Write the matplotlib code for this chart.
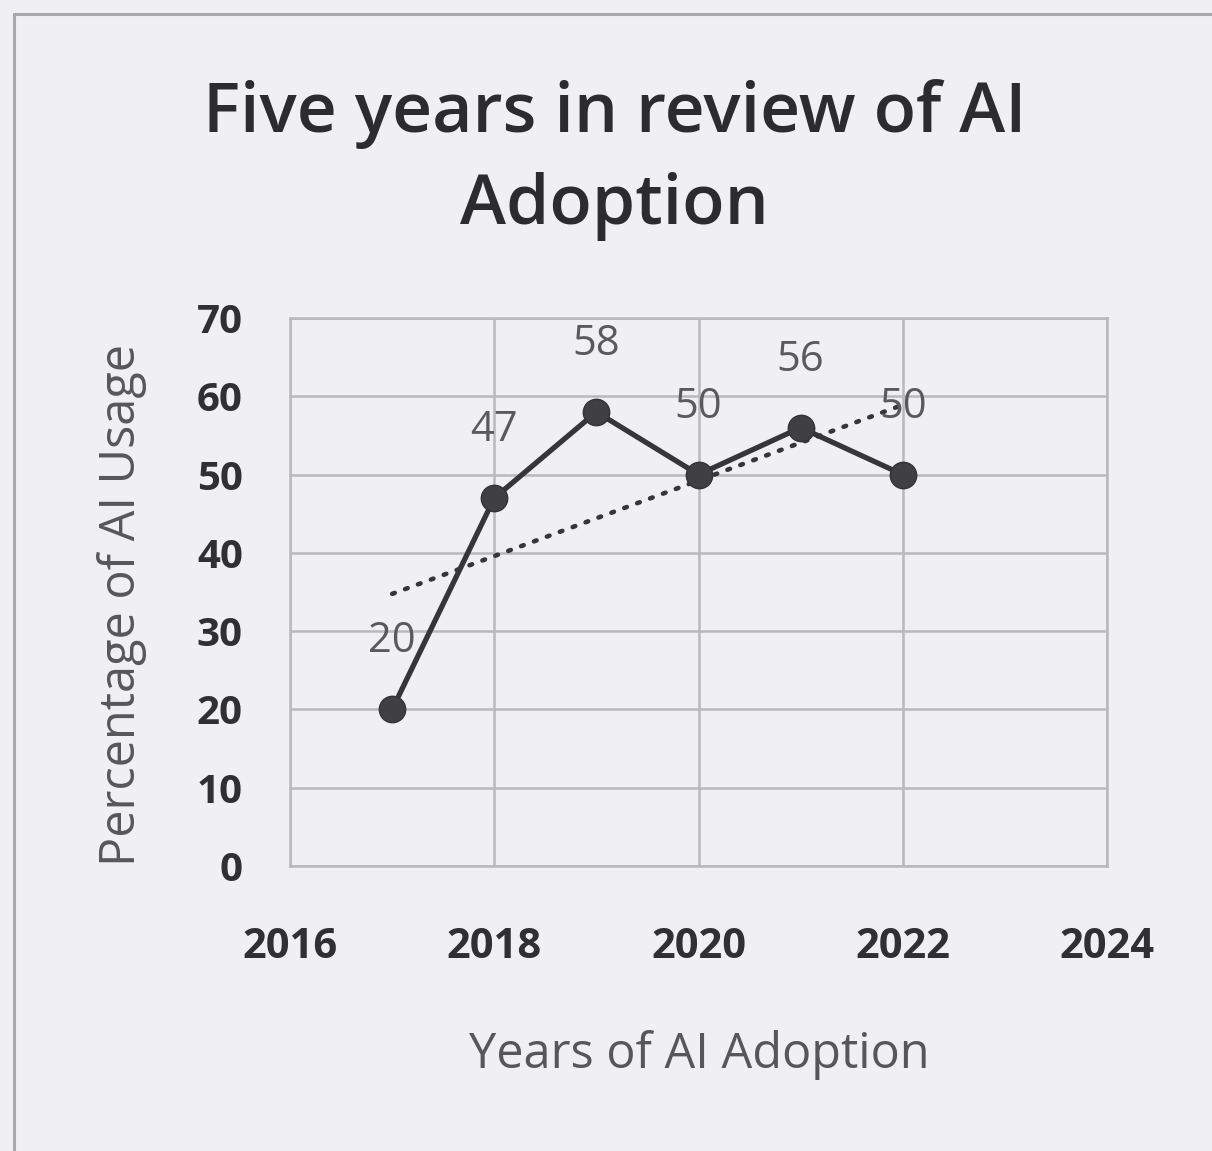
import numpy as np
import matplotlib
matplotlib.use("Agg")
import matplotlib.pyplot as plt
from matplotlib.lines import Line2D

# Survey data: share of organisations using AI, per year
years = [2017, 2018, 2019, 2020, 2021, 2022]
usage = [20, 47, 58, 50, 56, 50]
x_ticks = [2016, 2018, 2020, 2022, 2024]
y_ticks = [0, 10, 20, 30, 40, 50, 60, 70]

title = "Five years in review of AI\nAdoption"
x_title = "Years of AI Adoption"
y_title = "Percentage of AI Usage"

plt.rcParams["font.family"] = ["Open Sans", "DejaVu Sans"]

bg = "#f0eff4"
grid_c = "#b9b8bd"
line_c = "#363638"

fig = plt.figure(figsize=(12.12, 11.51), dpi=100, facecolor=bg)
ax = fig.add_axes([0.2393, 0.2476, 0.6741, 0.4761], facecolor=bg)

# linear trend line over the series
coef = np.polyfit(years, usage, 1)
trend = np.polyval(coef, years)
ax.plot(years, trend, linestyle=(0, (0.6, 2.4)), color=line_c, lw=3.3,
        dash_capstyle="round", zorder=3)

ax.plot(years, usage, color=line_c, lw=3.8, marker="o", markersize=19,
        markerfacecolor="#404042", markeredgecolor="#343436", zorder=4)

for x, y in zip(years, usage):
    ax.annotate(str(y), (x, y), xytext=(0, 49), textcoords="offset points",
                ha="center", va="center", fontsize=30, color="#5a5a5c",
                zorder=5)

ax.set_xlim(x_ticks[0], x_ticks[-1])
ax.set_ylim(y_ticks[0], y_ticks[-1])
ax.set_xticks(x_ticks)
ax.set_yticks(y_ticks)
ax.set_xticklabels([str(t) for t in x_ticks], fontsize=30, fontweight="bold",
                   color="#303032")
ax.set_yticklabels([str(t) for t in y_ticks], fontsize=29, fontweight="bold",
                   color="#303032")
ax.tick_params(axis="x", length=0, pad=44)
ax.tick_params(axis="y", length=0, pad=34)

ax.grid(True, color=grid_c, lw=1.8)
ax.set_axisbelow(True)
for s in ax.spines.values():
    s.set_color(grid_c)
    s.set_linewidth(1.8)

fig.text(0.507, 0.861, title, ha="center", va="center", fontsize=50,
         fontweight=600, color="#2c2c2e", linespacing=1.45)
fig.text(0.577, 0.083, x_title, ha="center", va="center", fontsize=35,
         color="#57575a")
fig.text(0.101, 0.474, y_title, ha="center", va="center", fontsize=35,
         color="#57575a", rotation=90)

# chart frame (left and top edges)
fig.add_artist(Line2D([0.0115, 0.0115], [0.0, 0.988], transform=fig.transFigure,
                      color="#a9a8ad", lw=2.2))
fig.add_artist(Line2D([0.0115, 1.0], [0.988, 0.988], transform=fig.transFigure,
                      color="#a9a8ad", lw=2.2))

fig.savefig("out.png", dpi=100, facecolor=bg)
